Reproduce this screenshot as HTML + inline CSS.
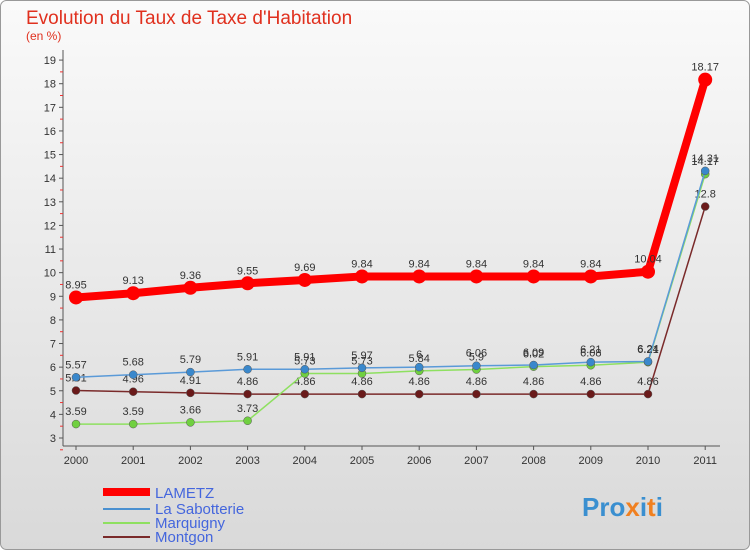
<!DOCTYPE html>
<html><head><meta charset="utf-8"><style>
body{margin:0;width:750px;height:550px;overflow:hidden;font-family:"Liberation Sans",sans-serif}
svg text{font-family:"Liberation Sans",sans-serif}
</style></head><body>
<svg width="750" height="550" xmlns="http://www.w3.org/2000/svg">
<defs><linearGradient id="bg" x1="0" y1="0" x2="0" y2="1"><stop offset="0" stop-color="#fafafa"/><stop offset="1" stop-color="#d9d9d9"/></linearGradient></defs>
<rect x="0.5" y="0.5" width="749" height="549" rx="6" fill="url(#bg)" stroke="#999"/>
<text x="26" y="24" font-size="19" fill="#e0301e">Evolution du Taux de Taxe d'Habitation</text>
<text x="26" y="40" font-size="12" fill="#e0301e">(en %)</text>
<g id="axes"></g><g id="series"></g>
<g>
<line x1="103" y1="492" x2="150" y2="492" stroke="#f00" stroke-width="8"/>
<text x="155" y="498" font-size="15" fill="#4466dd">LAMETZ</text>
<line x1="103" y1="509" x2="150" y2="509" stroke="#4a90d0" stroke-width="2"/>
<text x="155" y="514" font-size="15" fill="#4466dd">La Sabotterie</text>
<line x1="103" y1="523" x2="150" y2="523" stroke="#8ee060" stroke-width="2"/>
<text x="155" y="528" font-size="15" fill="#4466dd">Marquigny</text>
<line x1="103" y1="537" x2="150" y2="537" stroke="#7a2a2a" stroke-width="2"/>
<text x="155" y="542" font-size="15" fill="#4466dd">Montgon</text>
</g>
<text x="582" y="516" font-size="26" font-weight="bold" fill="#3a8fd0">Pro<tspan fill="#f08020">x</tspan>i<tspan fill="#f08020">t</tspan>i</text>
</svg>
<script>
const years=[2000,2001,2002,2003,2004,2005,2006,2007,2008,2009,2010,2011];
const yTicks=[3,4,5,6,7,8,9,10,11,12,13,14,15,16,17,18,19];
const lametz=[8.95,9.13,9.36,9.55,9.69,9.84,9.84,9.84,9.84,9.84,10.04,18.17];
const sabotterie=[5.57,5.68,5.79,5.91,5.91,5.97,6,6.06,6.09,6.21,6.24,14.31];
const marquigny=[3.59,3.59,3.66,3.73,5.73,5.73,5.84,5.9,6.02,6.08,6.21,14.17];
const montgon=[5.01,4.96,4.91,4.86,4.86,4.86,4.86,4.86,4.86,4.86,4.86,12.8];
const NS="http://www.w3.org/2000/svg";
const xS=i=>76+i*57.2;
const yS=v=>438-(v-3)*23.62;
function mk(t,a,p){const e=document.createElementNS(NS,t);for(const k in a)e.setAttribute(k,a[k]);p.appendChild(e);return e;}
const ax=document.getElementById('axes');
const yl=mk('line',{x1:63,y1:50,x2:63,y2:446,stroke:'#555'},ax);


const xl=mk('line',{x1:63,y1:446,x2:720,y2:446,stroke:'#555'},ax);


yTicks.forEach(v=>{
 mk('line',{x1:59,y1:yS(v),x2:63,y2:yS(v),stroke:'#555'},ax);
 mk('line',{x1:60,y1:yS(v)+11.8,x2:63,y2:yS(v)+11.8,stroke:'#e33'},ax);
 const t=mk('text',{x:56,y:yS(v)+4,'font-size':11,'text-anchor':'end',fill:'#333'},ax);t.textContent=v;
 
 
});
years.forEach((y,i)=>{
 mk('line',{x1:xS(i),y1:446,x2:xS(i),y2:450,stroke:'#555'},ax);
 const t=mk('text',{x:xS(i),y:464,'font-size':11,'text-anchor':'middle',fill:'#333'},ax);t.textContent=y;
 
 
});
const sg=document.getElementById('series');
function draw(data,color,w,r,name,dot){
 const g=mk('g',{},sg);
 
 
 const p=mk('polyline',{points:data.map((v,i)=>xS(i)+','+yS(v)).join(' '),fill:'none',stroke:color,'stroke-width':w},g);
 
 
 data.forEach((v,i)=>{
  const c=mk('circle',{cx:xS(i),cy:yS(v),r:r,fill:dot,stroke:'#555','stroke-width':r>5?0:0.5},g);
  
  
  const t=mk('text',{x:xS(i),y:yS(v)-9,'font-size':11,'text-anchor':'middle',fill:'#333'},g);t.textContent=v;
  
  
 });
}
draw(montgon,'#7a2a2a',1.5,4,'montgon','#6a1a1a');
draw(marquigny,'#8ee060',1.5,4,'marquigny','#70d040');
draw(sabotterie,'#5a9ad8',1.5,4,'la-sabotterie','#3a88cc');
draw(lametz,'#f00',8,7,'lametz','#f00');
</script>
</body></html>
